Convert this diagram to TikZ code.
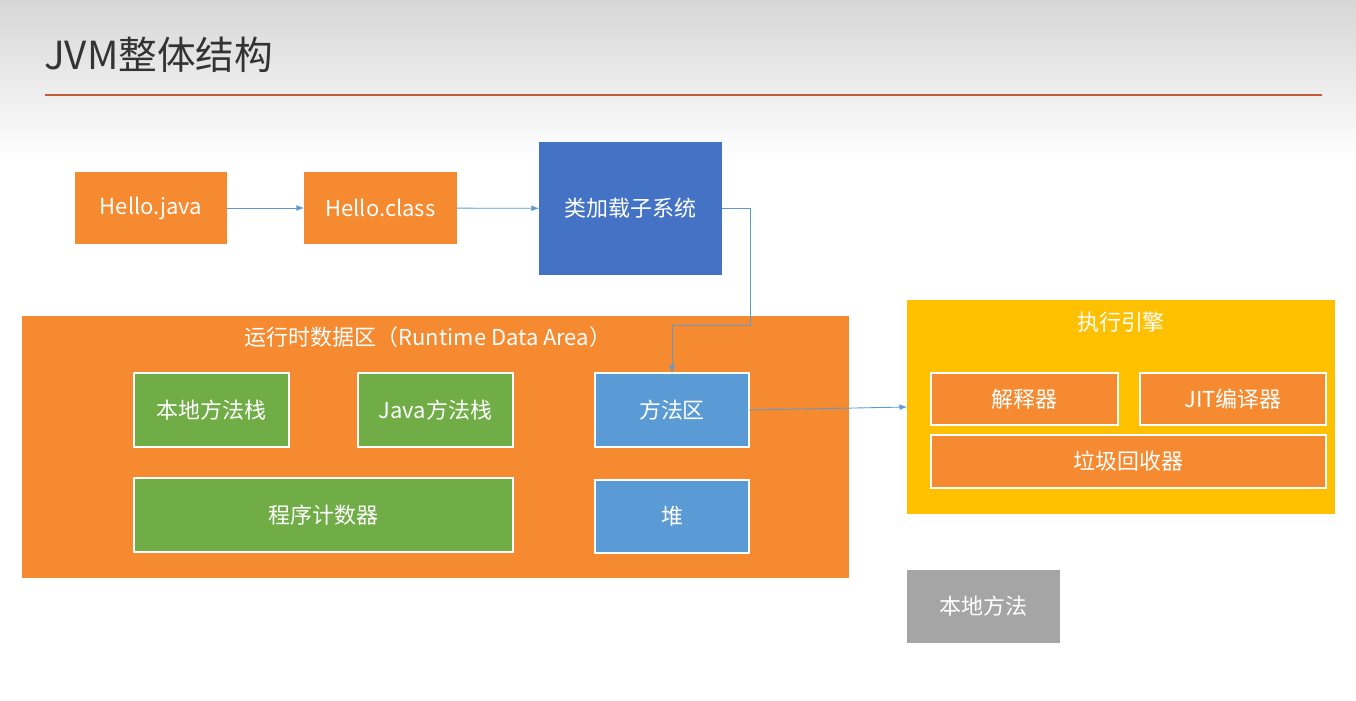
\documentclass[tikz,border=0pt]{standalone}
\usepackage{fontspec}
\setmainfont{Noto Sans CJK SC}
\usetikzlibrary{positioning}
\definecolor{jorange}{HTML}{F58A30}
\definecolor{jblue}{HTML}{4472C4}
\definecolor{jlblue}{HTML}{5B9BD5}
\definecolor{jgreen}{HTML}{70AD47}
\definecolor{jyellow}{HTML}{FFC000}
\definecolor{jgrey}{HTML}{A5A5A5}
\definecolor{jred}{HTML}{C55A3A}
\definecolor{jarrow}{HTML}{5B9BD5}
\tikzset{
  box/.style={inner sep=0pt, outer sep=0pt, text=white, font=\fontsize{12.5}{14}\selectfont},
  inbox/.style={box, draw=white, line width=1.1pt},
  link/.style={jarrow, line width=0.5pt, -latex}
}
\begin{document}
\begin{tikzpicture}[x=0.02cm, y=-0.02cm]
	    \fill[white] (0,0) rectangle (1356,700);
	    \shade[top color=black!16, bottom color=white] (0,0) rectangle (1356,160);
	    \useasboundingbox (0,0) rectangle (1356,700);
	    \node[anchor=west, font=\fontsize{22}{26}\selectfont, text=black!80] (title) at (38,55) {JVM整体结构};
	    \draw[jred, line width=1.2pt] (45,95) -- (1322,95);
	    % class loading
	    \node[box, fill=jorange, minimum width=3.04cm, minimum height=1.44cm] (java) at (151,208) {Hello.java};
	    \node[box, fill=jorange, minimum width=3.06cm, minimum height=1.44cm] (class) at (380.5,208) {Hello.class};
	    \node[box, fill=jblue, minimum width=3.66cm, minimum height=2.66cm] (loader) at (630.5,208.5) {类加载子系统};
	    % runtime data area
	    \node[box, fill=jorange, minimum width=16.54cm, minimum height=5.24cm] (rda) at (435.5,447) {};
	    \node[box] (rdalabel) at (428,337) {运行时数据区（Runtime Data Area）};
	    \node[inbox, fill=jgreen, minimum width=3.1cm, minimum height=1.48cm] (native) at (211.5,410) {本地方法栈};
	    \node[inbox, fill=jgreen, minimum width=3.1cm, minimum height=1.48cm] (jstack) at (435.5,410) {Java方法栈};
	    \node[inbox, fill=jlblue, minimum width=3.08cm, minimum height=1.48cm] (method) at (672,410) {方法区};
	    \node[inbox, fill=jgreen, minimum width=7.58cm, minimum height=1.48cm] (pc) at (323.5,515) {程序计数器};
	    \node[inbox, fill=jlblue, minimum width=3.08cm, minimum height=1.46cm] (heap) at (672,516.5) {堆};
	    % execution engine
	    \node[box, fill=jyellow, minimum width=8.56cm, minimum height=4.28cm] (engine) at (1121,407) {};
	    \node[box] (enginelabel) at (1121,322) {执行引擎};
	    \node[inbox, fill=jorange, minimum width=3.74cm, minimum height=1.04cm] (interp) at (1024.5,399) {解释器};
	    \node[inbox, fill=jorange, minimum width=3.72cm, minimum height=1.04cm] (jit) at (1233,399) {JIT编译器};
	    \node[inbox, fill=jorange, minimum width=7.9cm, minimum height=1.06cm] (gc) at (1128.5,461.5) {垃圾回收器};
	    \node[box, fill=jgrey, minimum width=3.06cm, minimum height=1.46cm] (nmethod) at (983.5,606.5) {本地方法};
	    % connectors
	    \draw[link] (java) -- (class);
	    \draw[link] (class) -- (loader);
	    \draw[link] (loader.east) -- ++(28,0) |- (672,325) -- (method.north);
	    \draw[link] (method.east) -- (engine.west |- 0,407);
\end{tikzpicture}
\end{document}
